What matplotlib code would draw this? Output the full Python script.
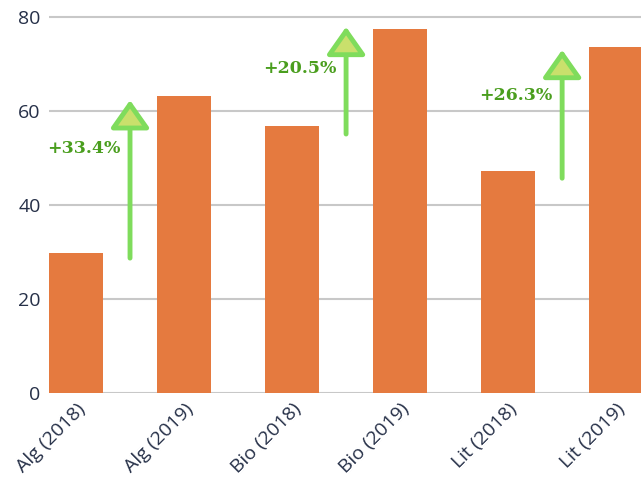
import matplotlib.pyplot as plt

# bar data
LABELS = ['Alg (2018)', 'Alg (2019)', 'Bio (2018)', 'Bio (2019)', 'Lit (2018)', 'Lit (2019)']
VALUES = [29.8, 63.2, 56.8, 77.4, 47.2, 73.6]

# change arrows between the year pairs
ARROW_X = [0.5, 2.5, 4.5]
ARROW_FROM = [28.7, 55.1, 45.7]
ARROW_TO = [62.3, 77.9, 73.0]
ARROW_TEXT = ['+33.4%', '+20.5%', '+26.3%']
TEXT_Y = [52.1, 69.1, 63.4]

BAR_COLOR = '#e57a3f'
TICK_COLOR = '#263048'
LINE_GREEN = '#7fdc5c'
HEAD_FILL = '#c9e06c'
TEXT_GREEN = '#4a9e1e'

fig = plt.figure(figsize=(6.41, 4.91), dpi=100)
ax = fig.add_axes([49 / 641, 98 / 491, 592 / 641, 385.4 / 491])

ax.bar(range(len(VALUES)), VALUES, width=0.5, color=BAR_COLOR, zorder=2)

for x, y0, y1, txt, ty in zip(ARROW_X, ARROW_FROM, ARROW_TO, ARROW_TEXT, TEXT_Y):
    ax.annotate('', xy=(x, y1), xytext=(x, y0),
                arrowprops=dict(arrowstyle='-|>,head_length=0.85,head_width=0.6',
                                mutation_scale=20, lw=3.5, edgecolor=LINE_GREEN,
                                facecolor=HEAD_FILL, shrinkA=0, shrinkB=0,
                                joinstyle='round'),
                zorder=3)
    ax.annotate(txt, xy=(x, ty), xytext=(-7, 0), textcoords='offset points',
                ha='right', va='center', fontsize=12.5, fontweight='bold',
                family='DejaVu Serif', color=TEXT_GREEN, zorder=4)

ax.set_xlim(-0.25, 5.23)
ax.set_ylim(0, 82)
ax.set_yticks([0, 20, 40, 60, 80])
ax.grid(axis='y', color='#c8c8c8', linewidth=1.5, zorder=0)
ax.set_axisbelow(True)
for s in ax.spines.values():
    s.set_visible(False)

ax.set_xticks(range(len(LABELS)))
ax.set_xticklabels(LABELS, rotation=45, ha='right', rotation_mode='anchor')
ax.tick_params(axis='both', length=0, labelsize=14, labelcolor=TICK_COLOR)
ax.tick_params(axis='y', pad=6)
ax.tick_params(axis='x', pad=5)
for lbl in ax.get_xticklabels() + ax.get_yticklabels():
    lbl.set_family('Open Sans')

fig.savefig('out.png', dpi=100)
